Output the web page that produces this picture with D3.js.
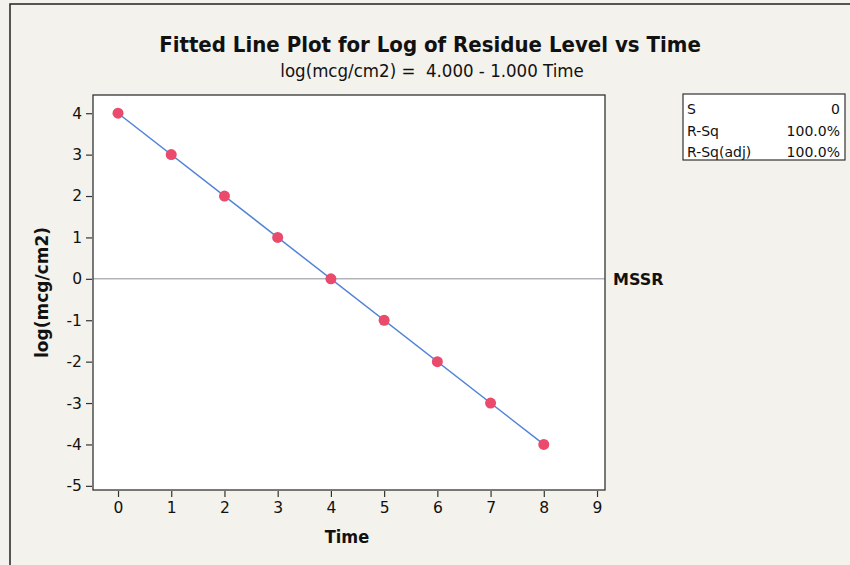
<!DOCTYPE html>
<html>
<head>
<meta charset="utf-8">
<script src="https://cdn.jsdelivr.net/npm/d3@7"></script>
<style>
  body { margin: 0; background: #f4f2ec; }
  svg text { fill: #111; white-space: pre; }
</style>
</head>
<body>
<div id="chart"></div>
<script>
// data
const times = [0, 1, 2, 3, 4, 5, 6, 7, 8];
const logLevels = [4, 3, 2, 1, 0, -1, -2, -3, -4];
const xTicks = [0, 1, 2, 3, 4, 5, 6, 7, 8, 9];
const yTicks = [4, 3, 2, 1, 0, -1, -2, -3, -4, -5];
const fitLine = { intercept: 4.0, slope: -1.0 };
const refLevel = 0;
const statLabels = ["S", "R-Sq", "R-Sq(adj)"];
const statValues = ["0", "100.0%", "100.0%"];

const condensed = "'DejaVu Sans Condensed', 'DejaVu Sans', sans-serif";
const regular = "'DejaVu Sans', sans-serif";

const svgWidth = 850, svgHeight = 565;
const margin = { top: 95, right: 245, bottom: 75, left: 93 };
const chartWidth = svgWidth - margin.left - margin.right;
const chartHeight = svgHeight - margin.top - margin.bottom;

const svg = d3.select("#chart").append("svg")
  .attr("width", svgWidth)
  .attr("height", svgHeight);

// outer frame
svg.append("rect")
  .attr("x", 10).attr("y", 4)
  .attr("width", 850).attr("height", 600)
  .attr("fill", "none")
  .attr("stroke", "#222")
  .attr("stroke-width", 1.5);

const chartGroup = svg.append("g")
  .attr("transform", `translate(${margin.left}, ${margin.top})`);

const xScale = d3.scaleLinear()
  .domain([-0.47, 9.15])
  .range([0, chartWidth]);

const yScale = d3.scaleLinear()
  .domain([-5.1, 4.44])
  .range([chartHeight, 0]);

chartGroup.append("rect")
  .attr("width", chartWidth)
  .attr("height", chartHeight)
  .attr("fill", "#fff");

// reference line at 0
chartGroup.append("line")
  .attr("x1", 0).attr("x2", chartWidth)
  .attr("y1", yScale(refLevel)).attr("y2", yScale(refLevel))
  .attr("stroke", "#8a8f98")
  .attr("stroke-width", 1);

// fitted line
const fitX = d3.extent(times);
chartGroup.append("line")
  .attr("x1", xScale(fitX[0])).attr("y1", yScale(fitLine.intercept + fitLine.slope * fitX[0]))
  .attr("x2", xScale(fitX[1])).attr("y2", yScale(fitLine.intercept + fitLine.slope * fitX[1]))
  .attr("stroke", "#5284d6")
  .attr("stroke-width", 1.5);

chartGroup.selectAll(".pt")
  .data(times)
  .enter()
  .append("circle")
  .classed("pt", true)
  .attr("cx", d => xScale(d))
  .attr("cy", (d, i) => yScale(logLevels[i]))
  .attr("r", 5.5)
  .attr("fill", "#ea4a6c");

chartGroup.append("rect")
  .attr("width", chartWidth)
  .attr("height", chartHeight)
  .attr("fill", "none")
  .attr("stroke", "#333")
  .attr("stroke-width", 1.3);

// axes
const xAxis = d3.axisBottom(xScale).tickValues(xTicks).tickSize(6).tickPadding(5).tickFormat(d => String(d));
const yAxis = d3.axisLeft(yScale).tickValues(yTicks).tickSize(6).tickPadding(4).tickFormat(d => String(d));

const gx = chartGroup.append("g")
  .attr("transform", `translate(0, ${chartHeight + 1})`)
  .call(xAxis);
const gy = chartGroup.append("g")
  .attr("transform", "translate(-1, 0)")
  .call(yAxis);

[gx, gy].forEach(g => {
  g.select(".domain").remove();
  g.selectAll(".tick line").attr("stroke", "#333").attr("stroke-width", 1.2);
  g.selectAll(".tick text")
    .attr("font-family", regular)
    .attr("font-size", 15.5)
    .attr("fill", "#111");
});

// MSSR label
chartGroup.append("text")
  .attr("x", chartWidth + 8)
  .attr("y", yScale(refLevel) + 6)
  .attr("font-family", regular)
  .attr("font-size", 16)
  .attr("font-weight", "bold")
  .text("MSSR");

// titles
svg.append("text")
  .attr("x", 430).attr("y", 52)
  .attr("text-anchor", "middle")
  .attr("font-family", condensed)
  .attr("font-size", 22)
  .attr("font-weight", "bold")
  .text("Fitted Line Plot for Log of Residue Level vs Time");

svg.append("text")
  .attr("x", 432).attr("y", 77)
  .attr("text-anchor", "middle")
  .attr("font-family", condensed)
  .attr("font-size", 18.5)
  .text("log(mcg/cm2) =  4.000 - 1.000 Time");

svg.append("text")
  .attr("x", 347).attr("y", 543)
  .attr("text-anchor", "middle")
  .attr("font-family", condensed)
  .attr("font-size", 18)
  .attr("font-weight", "bold")
  .text("Time");

svg.append("text")
  .attr("transform", `translate(48, ${margin.top + chartHeight / 2}) rotate(-90)`)
  .attr("text-anchor", "middle")
  .attr("font-family", regular)
  .attr("font-size", 17)
  .attr("font-weight", "bold")
  .text("log(mcg/cm2)");

// stats box
const box = svg.append("g").attr("transform", "translate(683, 94)");
box.append("rect")
  .attr("width", 162).attr("height", 66)
  .attr("fill", "#fff")
  .attr("stroke", "#333")
  .attr("stroke-width", 1.2);
statLabels.forEach((lab, i) => {
  box.append("text")
    .attr("x", 4).attr("y", 20 + i * 21.5)
    .attr("font-family", regular)
    .attr("font-size", 14)
    .text(lab);
  box.append("text")
    .attr("x", 157).attr("y", 20 + i * 21.5)
    .attr("text-anchor", "end")
    .attr("font-family", regular)
    .attr("font-size", 14)
    .text(statValues[i]);
});
</script>
</body>
</html>
